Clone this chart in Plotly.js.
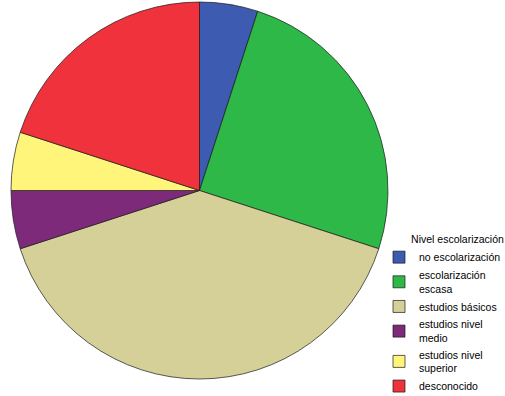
<!DOCTYPE html>
<html>
<head>
<meta charset="utf-8">
<script src="https://cdn.plot.ly/plotly-3.0.1.min.js"></script>
<style>html,body{margin:0;padding:0;background:#fff;overflow:hidden;}#chart{width:505px;height:396px;}</style>
</head>
<body>
<div id="chart"></div>
<script>
const categories = ["no escolarización", "escolarización<br>escasa", "estudios básicos", "estudios nivel<br>medio", "estudios nivel<br>superior", "desconocido"];
const values = [5, 25, 40, 5, 5, 20];
const colors = ["#3d5bb0", "#2eb848", "#d5cf98", "#7d2a7b", "#fff57a", "#ef323c"];

const trace = {
  type: "pie",
  labels: categories,
  values: values,
  sort: false,
  direction: "clockwise",
  rotation: 0,
  textinfo: "none",
  hoverinfo: "label+percent",
  marker: {colors: colors, line: {color: "#1a1a1a", width: 0.7}},
  domain: {x: [11/505, 388/505], y: [1 - 379/396, 1 - 2/396]}
};

const layout = {
  width: 505,
  height: 396,
  margin: {l: 0, r: 0, t: 0, b: 0, autoexpand: false},
  paper_bgcolor: "#ffffff",
  showlegend: true,
  legend: {
    title: {text: "Nivel escolarización", side: "top right", font: {size: 10.5, color: "#000"}},
    font: {family: "Liberation Sans, Arial, sans-serif", size: 10.5, color: "#000"},
    x: 379/505, xanchor: "left",
    y: 1 - 229/396, yanchor: "top",
    bgcolor: "rgba(0,0,0,0)",
    itemwidth: 30,
    tracegroupgap: 0
  },
  font: {family: "Liberation Sans, Arial, sans-serif", size: 11, color: "#000"}
};

Plotly.newPlot("chart", [trace], layout, {displayModeBar: false, staticPlot: true});
</script>
</body>
</html>
